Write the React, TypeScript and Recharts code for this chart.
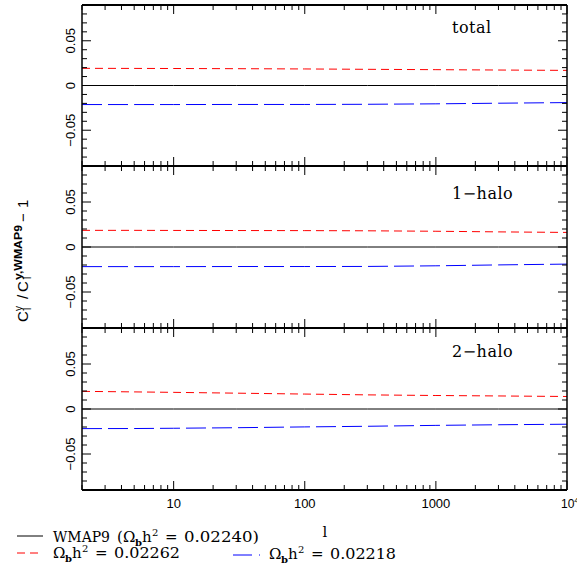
import React from 'react';
import { LineChart, Line, XAxis, YAxis } from 'recharts';

// multipole values sampled along the curves
const ELL = [2, 5, 10, 30, 100, 300, 1000, 3000, 10000];
// WMAP9 reference (ratio - 1 == 0)
const WMAP9_REF = [0, 0, 0, 0, 0, 0, 0, 0, 0];
// total
const TOTAL_HIGH = [0.0192, 0.0191, 0.019, 0.0188, 0.0185, 0.0181, 0.0177, 0.0173, 0.0169];
const TOTAL_LOW = [-0.0213, -0.0213, -0.0213, -0.0212, -0.0212, -0.021, -0.0205, -0.0198, -0.0191];
// 1-halo
const ONEH_HIGH = [0.0185, 0.0185, 0.0184, 0.0183, 0.0182, 0.018, 0.0175, 0.0168, 0.0162];
const ONEH_LOW = [-0.0218, -0.0218, -0.0218, -0.0217, -0.0217, -0.0216, -0.0209, -0.0199, -0.019];
// 2-halo
const TWOH_HIGH = [0.0196, 0.019, 0.0185, 0.0176, 0.0166, 0.0157, 0.015, 0.0145, 0.0139];
const TWOH_LOW = [-0.0218, -0.0217, -0.0214, -0.0208, -0.0199, -0.0192, -0.0182, -0.0175, -0.0169];

const PANEL_TITLES = ['total', '1-halo', '2-halo'];

const X_TICKS = [
  2, 3, 4, 5, 6, 7, 8, 9,
  10, 20, 30, 40, 50, 60, 70, 80, 90,
  100, 200, 300, 400, 500, 600, 700, 800, 900,
  1000, 2000, 3000, 4000, 5000, 6000, 7000, 8000, 9000,
  10000,
];
const X_MAJOR = [10, 100, 1000, 10000];
const X_MAJOR_LABELS = ['10', '100', '1000', '10^4'];
const Y_TICKS = [-0.08, -0.07, -0.06, -0.05, -0.04, -0.03, -0.02, -0.01, 0, 0.01, 0.02, 0.03, 0.04, 0.05, 0.06, 0.07, 0.08];
const Y_MAJOR = [-0.05, 0, 0.05];
const Y_MAJOR_LABELS = ['\u22120.05', '0', '0.05'];
const X_DOMAIN: [number, number] = [2, 10000];
const Y_DOMAIN: [number, number] = [-0.09, 0.09];

const LEGEND_NAMES = ['WMAP9', '', ''];
const LEGEND_VALUES = ['0.02240', '0.02262', '0.02218'];

const SANS = '"Liberation Sans", Arial, sans-serif';
const SERIF = '"DejaVu Serif", serif';

const RED = '#ff0000';
const BLUE = '#0000ff';
const RED_DASH = '8 5';
const BLUE_DASH = '20 6';

const W = 577;
const H = 567;
const PLOT_LEFT = 82;
const PANELS = [
  { top: 5, h: 161 },
  { top: 166, h: 162 },
  { top: 328, h: 162 },
];

const MAJ = 9;
const MIN = 5;

const isMajorX = (v: number) => X_MAJOR.some((m) => Math.abs(m - v) < 1e-6);
const majorYIndex = (v: number) => Y_MAJOR.findIndex((m) => Math.abs(m - v) < 1e-9);

function makeBottomTick(showLabels: boolean) {
  return (props: any) => {
    const { x, y, payload } = props;
    const v = payload.value;
    const major = isMajorX(v);
    const len = major ? MAJ : MIN;
    const idx = X_MAJOR.findIndex((m) => Math.abs(m - v) < 1e-6);
    let label: any = null;
    if (showLabels && idx >= 0) {
      const txt = X_MAJOR_LABELS[idx];
      if (txt.includes('^')) {
        const [base, exp] = txt.split('^');
        label = (
          <text x={x - 6} y={y + 18} fontSize={12} fontFamily={SANS} fill="#000" textAnchor="start">
            {base}
            <tspan fontSize={8} dy={-5}>{exp}</tspan>
          </text>
        );
      } else {
        label = (
          <text x={x} y={y + 18} fontSize={13} fontFamily={SANS} fill="#000" textAnchor="middle">
            {txt}
          </text>
        );
      }
    }
    return (
      <g>
        <line x1={x} x2={x} y1={y} y2={y - len} stroke="#000" strokeWidth={1} />
        {label}
      </g>
    );
  };
}

const TopTick = (props: any) => {
  const { x, y, payload } = props;
  const len = isMajorX(payload.value) ? MAJ : MIN;
  return <line x1={x} x2={x} y1={y} y2={y + len} stroke="#000" strokeWidth={1} />;
};

const LeftTick = (props: any) => {
  const { x, y, payload } = props;
  const mi = majorYIndex(payload.value);
  const len = mi >= 0 ? MAJ : MIN;
  const lx = x - 7;
  return (
    <g>
      <line x1={x} x2={x + len} y1={y} y2={y} stroke="#000" strokeWidth={1} />
      {mi >= 0 && (
        <text
          x={lx}
          y={y}
          transform={`rotate(-90, ${lx}, ${y})`}
          textAnchor="middle"
          fontSize={13}
          fontFamily={SANS}
          fill="#000"
        >
          {Y_MAJOR_LABELS[mi]}
        </text>
      )}
    </g>
  );
};

const RightTick = (props: any) => {
  const { x, y, payload } = props;
  const len = majorYIndex(payload.value) >= 0 ? MAJ : MIN;
  return <line x1={x} x2={x - len} y1={y} y2={y} stroke="#000" strokeWidth={1} />;
};

const SERIES = [
  { high: TOTAL_HIGH, low: TOTAL_LOW },
  { high: ONEH_HIGH, low: ONEH_LOW },
  { high: TWOH_HIGH, low: TWOH_LOW },
];

function Panel({ idx }: { idx: number }) {
  const { top, h } = PANELS[idx];
  const isLast = idx === PANELS.length - 1;
  const chartTop = top - 5;
  const chartH = isLast ? H - chartTop : h + 10;
  const xAxisH = isLast ? chartH - 5 - h : 1;
  const data = ELL.map((l, i) => ({
    ell: l,
    ref: WMAP9_REF[i],
    high: SERIES[idx].high[i],
    low: SERIES[idx].low[i],
  }));
  const axisStroke = { stroke: '#000', strokeWidth: 2 };
  const yAxisStroke = { stroke: '#000', strokeWidth: 1.5 };
  return (
    <div style={{ position: 'absolute', left: 0, top: chartTop }}>
      <LineChart
        width={W}
        height={chartH}
        data={data}
        margin={{ top: 4, right: 9, bottom: isLast ? 0 : 4, left: 0 }}
      >
        <XAxis
          dataKey="ell"
          type="number"
          scale="log"
          domain={X_DOMAIN}
          allowDataOverflow
          ticks={X_TICKS}
          interval={0}
          tickSize={0}
          tickMargin={0}
          height={xAxisH}
          axisLine={axisStroke}
          tickLine={false}
          tick={makeBottomTick(isLast)}
        />
        <XAxis
          xAxisId="t"
          orientation="top"
          dataKey="ell"
          type="number"
          scale="log"
          domain={X_DOMAIN}
          allowDataOverflow
          ticks={X_TICKS}
          interval={0}
          tickSize={0}
          tickMargin={0}
          height={1}
          axisLine={axisStroke}
          tickLine={false}
          tick={TopTick}
        />
        <YAxis
          type="number"
          domain={Y_DOMAIN}
          allowDataOverflow
          ticks={Y_TICKS}
          interval={0}
          width={PLOT_LEFT}
          tickSize={0}
          tickMargin={0}
          axisLine={yAxisStroke}
          tickLine={false}
          tick={LeftTick}
        />
        <YAxis
          yAxisId="r"
          orientation="right"
          type="number"
          domain={Y_DOMAIN}
          allowDataOverflow
          ticks={Y_TICKS}
          interval={0}
          width={1}
          tickSize={0}
          tickMargin={0}
          axisLine={yAxisStroke}
          tickLine={false}
          tick={RightTick}
        />
        <Line dataKey="ref" stroke="#000" strokeWidth={1} dot={false} isAnimationActive={false} />
        <Line dataKey="high" stroke={RED} strokeWidth={1} strokeDasharray={RED_DASH} dot={false} isAnimationActive={false} />
        <Line dataKey="low" stroke={BLUE} strokeWidth={1} strokeDasharray={BLUE_DASH} dot={false} isAnimationActive={false} />
      </LineChart>
    </div>
  );
}

const TITLE_Y = [33, 199, 357];

// one legend entry text: optional name, then Omega_b h^2 = value
function LegendText({ x, y, name, value, paren }: { x: number; y: number; name: string; value: string; paren: boolean }) {
  const common = { fontFamily: SERIF, fill: '#000' } as any;
  let cx = x;
  const parts: any[] = [];
  if (name) {
    parts.push(<text key="n" x={cx} y={y} fontSize={15} textLength={57} lengthAdjust="spacingAndGlyphs" {...common}>{name}</text>);
    cx += 64;
    parts.push(<text key="p" x={cx} y={y} fontSize={15} {...common}>(</text>);
    cx += 6;
  }
  parts.push(<text key="o" x={cx} y={y} fontSize={15} {...common}>{'\u03A9'}</text>);
  parts.push(<text key="b" x={cx + 12} y={y + 4} fontSize={10} fontWeight="bold" {...common}>b</text>);
  parts.push(<text key="h" x={cx + 19} y={y} fontSize={15} {...common}>h</text>);
  parts.push(<text key="s" x={cx + 29} y={y - 6} fontSize={10} {...common}>2</text>);
  parts.push(<text key="e" x={cx + 42} y={y} fontSize={15} {...common}>=</text>);
  const val = paren ? `${value})` : value;
  parts.push(
    <text key="v" x={cx + 61} y={y} fontSize={15} textLength={paren ? 75 : 66} lengthAdjust="spacingAndGlyphs" {...common}>
      {val}
    </text>
  );
  return <g>{parts}</g>;
}

function Overlay() {
  return (
    <svg width={W} height={H} style={{ position: 'absolute', left: 0, top: 0, pointerEvents: 'none' }}>
      {PANEL_TITLES.map((t, i) => (
        <text key={t} x={452} y={TITLE_Y[i]} fontSize={16} fontFamily={SERIF} fill="#000" letterSpacing={0.5}>
          {t.replace('-', '\u2212')}
        </text>
      ))}
      {/* y-axis label */}
      <g transform="translate(0,261) rotate(-90)" fontFamily={SANS} fill="#000">
        <text x={-61} y={28} fontSize={15}>C</text>
        <text x={-50} y={22} fontSize={10}>y</text>
        <text x={-49} y={31} fontSize={10}>l</text>
        <text x={-38} y={28} fontSize={15}>/</text>
        <text x={-31} y={28} fontSize={15}>C</text>
        <text x={-19} y={22} fontSize={10} fontWeight="bold" textLength={55} lengthAdjust="spacingAndGlyphs">y,WMAP9</text>
        <text x={-18} y={31} fontSize={10}>l</text>
        <text x={39} y={28} fontSize={15}>{'\u2212'}</text>
        <text x={53} y={28} fontSize={15}>1</text>
      </g>
      {/* x-axis label */}
      <text x={325} y={537} fontSize={15} fontFamily={SERIF} fill="#000" textAnchor="middle">l</text>
      {/* legend */}
      <line x1={17} x2={43} y1={536} y2={536} stroke="#000" strokeWidth={1} />
      <LegendText x={53} y={542} name={LEGEND_NAMES[0]} value={LEGEND_VALUES[0]} paren />
      <line x1={17} x2={41} y1={553} y2={553} stroke={RED} strokeWidth={1} strokeDasharray={RED_DASH} />
      <LegendText x={53} y={558} name={LEGEND_NAMES[1]} value={LEGEND_VALUES[1]} paren={false} />
      <line x1={233} x2={252} y1={555} y2={555} stroke={BLUE} strokeWidth={1} />
      <line x1={259} x2={260} y1={555} y2={555} stroke={BLUE} strokeWidth={1} />
      <LegendText x={269} y={559} name={LEGEND_NAMES[2]} value={LEGEND_VALUES[2]} paren={false} />
    </svg>
  );
}

export default function App() {
  return (
    <div style={{ position: 'absolute', left: 0, top: 0, width: W, height: H, background: '#fff' }}>
      {PANELS.map((_, i) => (
        <Panel key={i} idx={i} />
      ))}
      <Overlay />
    </div>
  );
}
